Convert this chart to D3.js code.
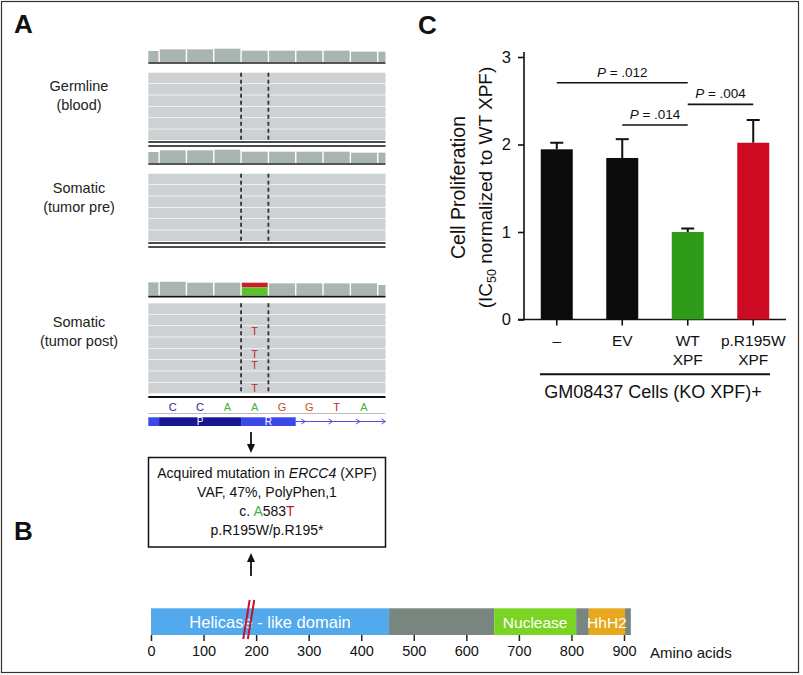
<!DOCTYPE html>
<html><head><meta charset="utf-8">
<script src="https://cdn.jsdelivr.net/npm/d3@7"></script>
<style>
body{margin:0;background:#fff}
svg{display:block}
text{font-family:"Liberation Sans",Arial,Helvetica,sans-serif}
</style>
</head><body>
<svg id="fig" width="803" height="675"></svg>
<script>
// ---------------- Panel A data ----------------
const sampleLabels = [["Germline","(blood)"],["Somatic","(tumor pre)"],["Somatic","(tumor post)"]];
const readCounts = [6, 6, 8];
const coverageGermline = [33, 38, 38, 40, 34, 34, 34, 34, 31, 31];
const coveragePre = [33, 38, 38, 40, 34, 34, 34, 34, 31, 31];
const coveragePost = [40, 42, 39, 39, 39, 37, 37, 37, 37, 32];
const altReadRows = [[], [], [2, 4, 5, 7]];
const altBase = "T";
const postAltFraction = 0.36;
const refSeq = ["C","C","A","A","G","G","T","A"];
const variantIndex = 3;
const codonLabels = ["", "P", "R"];
const codonStarts = [-0.4, 0, 3];
const codonEnds = [0, 3, 5];
const intronArrows = [5.35, 6.35, 7.35, 8.3];
const mutationLines = [
  [{t:"Acquired mutation in "},{t:"ERCC4",i:true},{t:" (XPF)"}],
  [{t:"VAF, 47%, PolyPhen,1"}],
  [{t:"c. "},{t:"A",c:"#3cb43c"},{t:"583"},{t:"T",c:"#c4202a"}],
  [{t:"p.R195W/p.R195*"}]
];

// ---------------- Panel B data ----------------
const domainNames = ["Helicase - like domain", "", "Nuclease", "", "HhH2", ""];
const domainStarts = [0, 453, 653, 809, 833, 902];
const domainEnds = [453, 653, 809, 833, 902, 913];
const domainColors = ["#52a9ec", "#79857f", "#7bd424", "#79857f", "#e6a81d", "#79857f"];
const aaTicks = [0, 100, 200, 300, 400, 500, 600, 700, 800, 900];
const mutationAA = 186;

// ---------------- Panel C data ----------------
const cellLines = ["–", "EV", "WT XPF", "p.R195W XPF"];
const tickLines = [["–"], ["EV"], ["WT","XPF"], ["p.R195W","XPF"]];
const proliferation = [1.945, 1.846, 1.0, 2.02];
const errorUpper = [0.075, 0.215, 0.04, 0.26];
const barColors = ["#0b0b0b", "#0b0b0b", "#2f9c19", "#cc0a22"];
const yTicks = [0, 1, 2, 3];
const compFrom = [0, 1, 2];
const compTo = [2, 2, 3];
const compY = [2.706, 2.223, 2.459];
const compP = [".012", ".014", ".004"];

// =================================================
const svg = d3.select("#fig");
svg.append("rect").attr("width",803).attr("height",675).attr("fill","#fff");
svg.append("rect").attr("x",1.5).attr("y",1.5).attr("width",797).attr("height",671)
  .attr("fill","none").attr("stroke","#333").attr("stroke-width",1.2);

// Panel letters
[["A",14,33],["B",14,540],["C",418,34]].forEach(([t,x,y])=>{
  svg.append("text").attr("x",x).attr("y",y).attr("font-size",26).attr("font-weight","bold").attr("fill","#111").text(t);
});

// ---------------- Panel A ----------------
const pos = d3.scaleLinear().domain([0, 8]).range([159.1, 377.7]);
const trackL = 148.3, trackR = 385.5;
const depth = d3.scaleLinear().domain([0, 42]).range([0, 14]);
const rowPitch = 11.33, rowH = 10.67;
const groupCov = [62, 163, 295.7];
const groupReads = [72.7, 173.7, 303.3];
const labelY = [86, 188, 322];
const coverages = [coverageGermline, coveragePre, coveragePost];

const A = svg.append("g");
coverages.forEach((cov, g) => {
  const gg = A.append("g");
  sampleLabels[g].forEach((s, k) => {
    gg.append("text").attr("x", 79).attr("y", labelY[g] + 5 + k*19).attr("text-anchor","middle")
      .attr("font-size", 14.5).attr("fill","#222").text(s);
  });
  cov.forEach((d, k) => {
    const i = k - 1;
    const x0 = Math.max(trackL, pos(i) + 0.7), x1 = Math.min(trackR, pos(i+1) - 0.7);
    const h = depth(d);
    if (g === 2 && i === variantIndex) {
      gg.append("rect").attr("x",x0).attr("y",groupCov[g]-h).attr("width",x1-x0).attr("height",h*postAltFraction).attr("fill","#c8202a");
      gg.append("rect").attr("x",x0).attr("y",groupCov[g]-h+h*postAltFraction).attr("width",x1-x0).attr("height",h*(1-postAltFraction)).attr("fill","#5cc22a");
    } else {
      gg.append("rect").attr("x",x0).attr("y",groupCov[g]-h).attr("width",x1-x0).attr("height",h).attr("fill","#a9b5b0");
    }
  });
  gg.append("line").attr("x1",trackL).attr("x2",trackR).attr("y1",groupCov[g]+1).attr("y2",groupCov[g]+1)
    .attr("stroke", g===2 ? "#111" : "#555").attr("stroke-width",1.8);
  const n = readCounts[g];
  d3.range(n).forEach(r => {
    gg.append("rect").attr("x",trackL).attr("y",groupReads[g]+r*rowPitch).attr("width",trackR-trackL).attr("height",rowH).attr("fill","#cdd1d3");
  });
  altReadRows[g].forEach(r => {
    gg.append("text").attr("x",pos(variantIndex+0.5)).attr("y",groupReads[g]+r*rowPitch+rowH/2+4)
      .attr("text-anchor","middle").attr("font-size",11).attr("fill","#c4282e").text(altBase);
  });
  const top = groupReads[g], bot = groupReads[g] + n*rowPitch;
  [variantIndex, variantIndex+1].forEach(i => {
    gg.append("line").attr("x1",pos(i)).attr("x2",pos(i)).attr("y1",top).attr("y2",bot)
      .attr("stroke","#333").attr("stroke-width",1.8).attr("stroke-dasharray","4,3");
  });
  if (g < 2) {
    [1.3, 5.3].forEach(o => gg.append("line").attr("x1",trackL).attr("x2",trackR).attr("y1",bot+o).attr("y2",bot+o).attr("stroke","#111").attr("stroke-width",1.6));
  } else {
    gg.append("line").attr("x1",trackL).attr("x2",trackR).attr("y1",bot+3).attr("y2",bot+3).attr("stroke","#111").attr("stroke-width",2);
  }
});

// reference sequence
const baseColors = {A:"#3cb43c", C:"#25259a", G:"#c0531e", T:"#c42424"};
refSeq.forEach((b, i) => {
  A.append("text").attr("x",pos(i+0.5)).attr("y",411).attr("text-anchor","middle").attr("font-size",11)
    .attr("fill",baseColors[b]).text(b);
});
A.append("line").attr("x1",trackL).attr("x2",trackR).attr("y1",413.5).attr("y2",413.5).attr("stroke","#bbb").attr("stroke-width",1);
A.append("line").attr("x1",pos(codonEnds[2])).attr("x2",trackR).attr("y1",421.5).attr("y2",421.5).attr("stroke","#5050dd").attr("stroke-width",1);
intronArrows.forEach(p => {
  const x = Math.min(pos(p), trackR);
  A.append("path").attr("d",`M${x-4},${419} L${x},${421.5} L${x-4},${424}`).attr("fill","none").attr("stroke","#5050dd").attr("stroke-width",1);
});
codonLabels.forEach((c, k) => {
  const x0 = Math.max(trackL, pos(codonStarts[k])), x1 = pos(codonEnds[k]);
  A.append("rect").attr("x",x0).attr("y",417.3).attr("width",x1-x0).attr("height",8.7).attr("fill", k===1 ? "#17178f" : "#3c48e6");
  if (c) A.append("text").attr("x",(x0+x1)/2).attr("y",425).attr("text-anchor","middle").attr("font-size",10).attr("fill","#fff").text(c);
});

function arrow(x, y1, y2) {
  const dir = Math.sign(y2 - y1);
  A.append("line").attr("x1",x).attr("x2",x).attr("y1",y1).attr("y2",y2 - dir*6).attr("stroke","#111").attr("stroke-width",1.8);
  A.append("path").attr("d",`M${x-4},${y2-dir*9} L${x},${y2} L${x+4},${y2-dir*9} Z`).attr("fill","#111");
}
arrow(251, 432, 453);
arrow(251, 576, 553);

A.append("rect").attr("x",148.5).attr("y",457.5).attr("width",237).attr("height",89.5).attr("fill","#fff").attr("stroke","#111").attr("stroke-width",1.5);
mutationLines.forEach((parts, k) => {
  const t = A.append("text").attr("x",267).attr("y",478 + k*19).attr("text-anchor","middle").attr("font-size",14).attr("fill","#111");
  parts.forEach(p => {
    const s = t.append("tspan").text(p.t);
    if (p.i) s.attr("font-style","italic");
    if (p.c) s.attr("fill", p.c);
  });
});

// ---------------- Panel B ----------------
const aa = d3.scaleLinear().domain([0, 900]).range([151, 624]);
const B = svg.append("g");
const barTop = 608.3, barBot = 635;
domainNames.forEach((n, k) => {
  B.append("rect").attr("x",aa(domainStarts[k])).attr("y",barTop).attr("width",aa(domainEnds[k])-aa(domainStarts[k])).attr("height",barBot-barTop).attr("fill",domainColors[k]);
});
domainNames.forEach((n, k) => {
  if (n) B.append("text").attr("x",(aa(domainStarts[k])+aa(domainEnds[k]))/2).attr("y",627.5).attr("text-anchor","middle")
    .attr("font-size", k===0 ? 16.5 : 15.5).attr("fill","#fff").text(n);
});
const mx = aa(mutationAA);
[-2.3, 2.3].forEach(o => {
  B.append("line").attr("x1",mx+o+3.2).attr("x2",mx+o-3.2).attr("y1",600).attr("y2",639)
    .attr("stroke","#c4132e").attr("stroke-width",2);
});
const aaAxis = d3.axisBottom(aa).tickValues(aaTicks).tickSize(6).tickPadding(5).tickFormat(d3.format("d"));
const gAx = B.append("g").attr("transform",`translate(0,${barBot})`).call(aaAxis);
gAx.select(".domain").remove();
gAx.selectAll(".tick line").attr("stroke","#222").attr("stroke-width",1.5);
gAx.selectAll(".tick text").attr("font-size",14.5).attr("fill","#111").attr("font-family","Liberation Sans, Arial, sans-serif");
B.append("text").attr("x",650).attr("y",658).attr("font-size",15).attr("fill","#111").text("Amino acids");

// ---------------- Panel C ----------------
const C = svg.append("g");
const y = d3.scaleLinear().domain([0, 3]).range([319.5, 57]);
const x = d3.scaleBand().domain(cellLines).range([524, 786]).paddingInner(0.5115).paddingOuter(0.256);

const yAx = C.append("g").attr("transform","translate(524,0)").call(d3.axisLeft(y).tickValues(yTicks).tickSize(6).tickPadding(7).tickFormat(d3.format("d")));
yAx.select(".domain").attr("stroke","#111").attr("stroke-width",1.6).attr("d","M-6,319.5H0V52");
yAx.selectAll(".tick line").attr("stroke","#111").attr("stroke-width",1.6);
yAx.selectAll(".tick text").attr("font-size",16.5).attr("fill","#111").attr("font-family","Liberation Sans, Arial, sans-serif");

const xAx = C.append("g").attr("transform","translate(0,319.5)").call(d3.axisBottom(x).tickSize(6).tickFormat(""));
xAx.select(".domain").attr("stroke","#111").attr("stroke-width",1.6).attr("d","M524,0H786");
xAx.selectAll(".tick line").attr("stroke","#111").attr("stroke-width",1.6);
cellLines.forEach((c, i) => {
  tickLines[i].forEach((t, k) => {
    C.append("text").attr("x", x(c) + x.bandwidth()/2).attr("y", 345.5 + k*19).attr("text-anchor","middle")
      .attr("font-size",15.5).attr("fill","#111").text(t);
  });
});

cellLines.forEach((c, i) => {
  const cx = x(c) + x.bandwidth()/2;
  C.append("line").attr("x1",cx).attr("x2",cx).attr("y1",y(proliferation[i])).attr("y2",y(proliferation[i]+errorUpper[i])).attr("stroke","#111").attr("stroke-width",2);
  C.append("line").attr("x1",cx-6.5).attr("x2",cx+6.5).attr("y1",y(proliferation[i]+errorUpper[i])).attr("y2",y(proliferation[i]+errorUpper[i])).attr("stroke","#111").attr("stroke-width",2);
  C.append("rect").attr("x",x(c)).attr("y",y(proliferation[i])).attr("width",x.bandwidth()).attr("height",y(0)-y(proliferation[i])).attr("fill",barColors[i]);
});

compFrom.forEach((f, k) => {
  const x1 = x(cellLines[f]) + x.bandwidth()/2, x2 = x(cellLines[compTo[k]]) + x.bandwidth()/2;
  C.append("line").attr("x1",x1).attr("x2",x2).attr("y1",y(compY[k])).attr("y2",y(compY[k])).attr("stroke","#111").attr("stroke-width",1.6);
  const t = C.append("text").attr("x",(x1+x2)/2).attr("y",y(compY[k])-6).attr("text-anchor","middle").attr("font-size",13.5).attr("fill","#111");
  t.append("tspan").attr("font-style","italic").text("P");
  t.append("tspan").text(" = " + compP[k]);
});

C.append("text").attr("transform","translate(465,187.5) rotate(-90)").attr("text-anchor","middle").attr("font-size",19.5).attr("fill","#111").text("Cell Proliferation");
const yl2 = C.append("text").attr("transform","translate(492,187.5) rotate(-90)").attr("text-anchor","middle").attr("font-size",19).attr("fill","#111");
yl2.append("tspan").text("(IC");
yl2.append("tspan").attr("font-size",12.5).attr("dy",4).text("50");
yl2.append("tspan").attr("dy",-4).text(" normalized to WT XPF)");

C.append("line").attr("x1",540).attr("x2",770).attr("y1",374.3).attr("y2",374.3).attr("stroke","#111").attr("stroke-width",2);
C.append("text").attr("x",653).attr("y",398).attr("text-anchor","middle").attr("font-size",18).attr("fill","#111").text("GM08437 Cells (KO XPF)+");
</script>
</body></html>
